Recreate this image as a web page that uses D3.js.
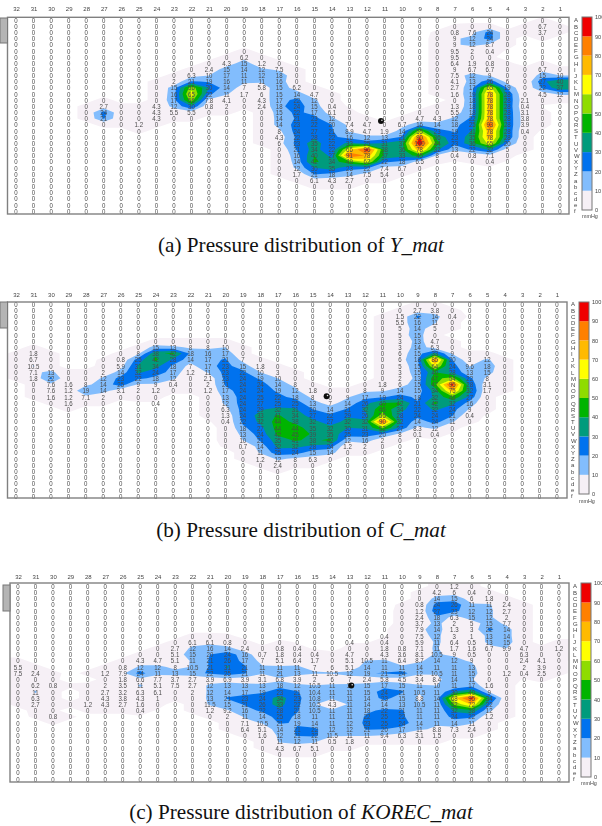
<!DOCTYPE html>
<html>
<head>
<meta charset="utf-8">
<script src="https://cdn.jsdelivr.net/npm/d3@7"></script>
<style>
  html, body { margin: 0; padding: 0; background: #fff; }
  svg { display: block; }
  text { font-family: "Liberation Sans", Arial, sans-serif; }
  .caption { font-family: "Liberation Serif", "Times New Roman", serif; font-size: 21.2px; fill: #111; }
</style>
</head>
<body>
<svg id="chart" width="602" height="826"></svg>
<script>
var colLabels = [32,31,30,29,28,27,26,25,24,23,22,21,20,19,18,17,16,15,14,13,12,11,10,9,8,7,6,5,4,3,2,1];
var rowLabels = ["A","B","C","D","E","F","G","H","I","J","K","L","M","N","O","P","Q","R","S","T","U","V","W","X","Y","Z","a","b","c","d","e","f"];
var legendTicks = [0,10,20,30,40,50,60,70,80,90,100];

// legend bands, low to high
var bandLimits = [0,10,20,30,40,50,60,70,80,90,100];
var bandColors = ["#f6f0f6","#82bdfd","#0072ee","#009b7c","#00b400","#8fdc00","#ffff00","#ffba00","#ff8000","#f00000"];

// each line: column label, first row that is not zero, then the readings going down
var yMat = [
  [27,14, 2.7,24,21],
  [25,17, 1.2],
  [24,14, 4.3,4.3,4.3],
  [23,10, 2,15,16,17,12,5.5],
  [22,9, 6.3,21,56,65,56,30,5.5],
  [21,8, 2.4,10,19,30,22,7.8,0.8],
  [20,7, 4.3,15,17,16,14,11,4.1,2],
  [19,6, 6.2,15,14,11,11,7,1.7],
  [18,7, 1.2,12,12,11,5.8,6,4.3,2.4],
  [17,8, 7.5,18,16,15,15,17,18,15,14,14,8,4.3,6],
  [16,11, 6.2,14,22,24,22,21,23,24,22,23,21,16,14,12,1.7],
  [15,12, 4.7,12,15,17,23,22,27,28,35,34,40,42,30,21,6.1],
  [14,14, 0.4,6.1,12,20,21,22,22,22,27,34,35,18,4.3],
  [13,17, 7.4,8.9,16,33,66,91,49,23,14,2.7],
  [12,17, 4.7,4.7,12,25,96,78,62,22,7.5],
  [11,18, 1.9,13,31,38,37,22,7.4,5.4],
  [10,17, 6.7,14,21,37,36,33,18,6.7],
  [9,16, 4.7,16,55,90,100,78,45,6.5],
  [8,16, 4.3,14,23,36,44,32,8],
  [7,2, 0.8,9,9,9.5,9.5,6.4,9,7.5,4.1,2.7,1.6,0,1.3,5.5,12,18,19,23,23,13,0.4],
  [6,2, 7.6,12,12,2,0,1.9,6.7,12,13,17,19,18,18,18,22,25,31,35,36,22,0.8],
  [5,2, 24,24,8.7,0.4,0,0.8,6.7,9,26,65,78,78,78,78,78,93,78,78,65,32,7.1,0.4],
  [4,10, 6,19,28,28,28,28,28,28,28,28,20,5],
  [3,13, 2.1,0.4,3.1,3.8,3.9,0.4],
  [2,1, 6.7,3.7,0,0,0,0,0,6.7,15,27,22,4.5],
  [1,9, 10,40,37,12]
];

var cMat = [
  [31,8, 1.8,6.7,10.5,7.1,1.8],
  [30,11, 13,22,7.6,7.6,1.6],
  [29,13, 1.6,1.2,1.2,1.6],
  [28,13, 8,19,7.1],
  [27,11, 2,12,14,14,2],
  [26,9, 0.8,5.9,14,23,25,3.1],
  [25,8, 8,25,31,32,22,9,2],
  [24,7, 15,38,42,34,24,18,9,1.2,0,0.4],
  [23,7, 13,42,28,18,17,12,0.4],
  [22,7, 8,18,14,7,1.2],
  [21,7, 8,16,17,17,11,2.1,2,1.2],
  [20,7, 10,17,21,23,23,23,21,17,13,12,6.3,1.3,0.4],
  [19,9, 7,15,22,24,24,24,24,24,24,24,22,18,13,10,0.7],
  [18,10, 1.8,10,19,24,24,25,27,29,33,32,27,24,21,14,11,1.2],
  [17,11, 3,10,14,19,22,25,32,41,44,44,42,35,32,25,12,2.4],
  [16,13, 8,12,18,25,31,34,38,44,45,41,32,24,8],
  [15,14, 1.8,8,13,20,27,32,35,39,38,28,15,6.3],
  [14,16, 7,14,22,27,32,35,42,24,14],
  [13,15, 9,14,21,29,32,30,25,12,1.2],
  [12,14, 8,17,26,32,26,32,31,23,16,2],
  [11,13, 1.8,9,19,40,46,55,90,52,20,2],
  [10,2, 1.5,5.5,5,5,3,3,6,6,5,3,2,6,14,24,42,34,28,32,27,8],
  [9,1, 2.7,22,16,14,15,13,14,15,18,15,15,13,15,15,18,21,22,24,14,8.3,0.1],
  [8,1, 3.8,14,11,5,0,4.7,6.3,33,85,64,40,47,47,34,32,42,32,24,24,12,0.4],
  [7,2, 0.4,0,0,0,0,0,9,20,24,28,54,95,75,48,32,24,21,11],
  [6,9, 3,9.6,13,22,28,32,27,16,9,0.4],
  [5,9, 12,18,15,8,3.1,1.7]
];

var korecMat = [
  [32,13, 5.5,7.5],
  [31,14, 2.4,0,6.2,11,6.3,2.7],
  [30,16, 0.8,0,0,0,0,0.8],
  [28,19, 1.2],
  [27,14, 1.2,0,2,2.7,4.3,4.3],
  [26,13, 0.8,7.9,1.8,3.5,3.2,3.8,2.7],
  [25,12, 4.3,12,24,6.6,11,6.3,4.3,1.6,0.4],
  [24,12, 4.7,12,11,7.7,5.1,6.1,1],
  [23,10, 2.7,5.1,5.1,8,13,3.7,7.5],
  [22,9, 6.1,12,15,11,10.5,15,2.7,2.7,2],
  [21,9, 6.1,16,20,21,21,22,3.9,12,12,13,11.5,1.2],
  [20,9, 0.8,14,24,26,31,25,6.9,13,14,21,15,9.2,2],
  [19,10, 2.4,16,17,21,21,3.9,13,17,23,21,16,11,7.1,6.4],
  [18,11, 0.7,7,11,11,3.1,13,19,24,26,22,14,10.5,5.1,1.6],
  [17,10, 0.8,1.8,5.1,11,21,6.8,18,23,34,33,28,25,21,14,12,11,4.3],
  [16,10, 0.4,0.4,6.4,11,13,3.9,12,21,23,22,21,18,19,21,21,12,6.7],
  [15,11, 0.4,1.7,7,11,2,10.5,10.4,10.8,10.5,10.5,11,14,22,22,11,5.1],
  [14,13, 6,10.5,6,11,11,11,4.3,11,11,11,12,11.5,0.5],
  [13,9, 0.4,0,4.7,5.1,5.1,12,7,11,11,11,11,11,11,12,12,11,1.8],
  [12,12, 10.5,14,19,2.4,15,15,14,14,18,22,23,21,11],
  [11,8, 0.4,0.4,1.8,4.3,11,11,21,5.8,17,24,23,14,22,25,25,20,9.4],
  [10,10, 0.8,3.6,6.4,11,24,4.5,15,21,15,13,21,22,24,17,6.3],
  [9,3, 0.8,1.2,2.4,3.7,7.9,7.5,5.9,7.1,8.1,8.7,14,12,3.4,11,10.5,8.8,10.5,11,11,14,11,3.1],
  [8,1, 4.2,14,24,27,18,13,14,12,11,11,10.5,14,11,10.5,8.4,10,11,14,11,11,11,11,8.8,1.5],
  [7,0, 1.2,6,15,26,23,6.3,2,1.3,3,6.4,1.7,9,12,11,11,14,11,30,68,52,32,24,14,7.3],
  [6,1, 0.4,6,11,12,15,5,3,1,0.5,1.6,0.5,9,13,15,11,17,40,95,72,38,22,11,2.4],
  [5,2, 1.8,11,12,12,15,22,13,13,6.7,0,0,0,0,0,1.6,9,34,22,12,1.2],
  [4,3, 2.4,2.7,2,7.7,14,14,15,9.9,0,0,0,1.2],
  [3,10, 4.7,6.3,2.4,2,0.4],
  [2,12, 4.1,3.9,2.5],
  [1,10, 1.2]
];

// sensor ball on each mat, as [column position, row position] on the grid
var yBall = [20.8, 16.4];
var cBall = [17.8, 14.9];
var korecBall = [19.1, 16];

// places for the three plots
var panels = [
  {data: yMat, ball: yBall, colY: 9, x0: 16, x1: 560, y0: 20, y1: 211, boxL: 7.5, boxR: 569, boxT: 17.3, boxB: 214,
   letterX: 576, barL: 582, barR: 592, barT: 17, barB: 210, thumbL: 0, thumbT: 18, thumbB: 43, unitY: 218},
  {data: cMat, ball: cBall, colY: 295, x0: 16, x1: 557, y0: 304, y1: 496, boxL: 7.5, boxR: 567, boxT: 302, boxB: 498,
   letterX: 573, barL: 579, barR: 589, barT: 302, barB: 494, thumbL: 0, thumbT: 302, thumbB: 328, unitY: 503},
  {data: korecMat, ball: korecBall, colY: 577, x0: 18, x1: 559, y0: 586, y1: 779, boxL: 10, boxR: 569, boxT: 583, boxB: 782,
   letterX: 575, barL: 581, barR: 591, barT: 583, barB: 777, thumbL: 3, thumbT: 585, thumbB: 611, unitY: 785}
];

var svg = d3.select("#chart");
var defs = svg.append("defs");
var soft = defs.append("filter").attr("id", "soft")
  .attr("x", "-2%").attr("y", "-2%").attr("width", "104%").attr("height", "104%");
soft.append("feGaussianBlur").attr("stdDeviation", 0.55);

var nCols = colLabels.length;
var nRows = rowLabels.length;
var pad = 1;  // ghost cells so colour runs up to the frame

function buildGrid(lines) {
  var grid = d3.range(nCols * nRows).map(() => 0);
  lines.forEach(line => {
    var c = colLabels.indexOf(line[0]);
    line.slice(2).forEach((v, i) => { grid[(line[1] + i) * nCols + c] = v; });
  });
  return grid;
}

// copies the grid with the edge cells repeated outside it
function padGrid(grid) {
  var w = nCols + 2 * pad, h = nRows + 2 * pad, out = new Array(w * h);
  for (var j = 0; j < h; j++) {
    for (var i = 0; i < w; i++) {
      var c = Math.max(0, Math.min(nCols - 1, i - pad));
      var r = Math.max(0, Math.min(nRows - 1, j - pad));
      out[j * w + i] = grid[r * nCols + c];
    }
  }
  return out;
}

// anything non zero gets a pale halo a little bigger than itself
function haloGrid(padded) {
  var w = nCols + 2 * pad, h = nRows + 2 * pad, out = new Array(w * h);
  var reach = [[0,0],[1,0],[-1,0],[0,1],[0,-1]];
  for (var j = 0; j < h; j++) {
    for (var i = 0; i < w; i++) {
      var m = 0;
      reach.forEach(d => {
        var a = i + d[0], b = j + d[1];
        if (a < 0 || b < 0 || a >= w || b >= h) return;
        m = Math.max(m, Math.min(1, padded[b * w + a]));
      });
      out[j * w + i] = m;
    }
  }
  return out;
}

function drawPanel(p, n) {
  var g = svg.append("g").attr("filter", "url(#soft)");
  var grid = buildGrid(p.data);
  var padded = padGrid(grid);

  var x = d3.scaleLinear().domain([0, nCols - 1]).range([p.x0, p.x1]);
  var y = d3.scaleLinear().domain([0, nRows - 1]).range([p.y0, p.y1]);
  var colScale = d3.scalePoint().domain(colLabels).range([p.x0, p.x1]);
  var rowScale = d3.scalePoint().domain(rowLabels).range([p.y0, p.y1]);

  var clipId = "box" + n;
  defs.append("clipPath").attr("id", clipId).append("rect")
    .attr("x", p.boxL).attr("y", p.boxT)
    .attr("width", p.boxR - p.boxL).attr("height", p.boxB - p.boxT);

  // d3.contours puts a cell's value in the middle of the cell
  var path = d3.geoPath(d3.geoTransform({
    point: function(u, v) { this.stream.point(x(u - 0.5 - pad), y(v - 0.5 - pad)); }
  }));
  var contours = d3.contours().size([nCols + 2 * pad, nRows + 2 * pad]);
  var field = g.append("g").attr("clip-path", `url(#${clipId})`);

  field.append("path")
    .attr("d", path(contours.thresholds([0.5])(haloGrid(padded))[0]))
    .attr("fill", bandColors[0]);

  field.selectAll("path.band")
    .data(bandLimits.slice(1, -1))
    .enter().append("path")
      .attr("class", "band")
      .attr("d", t => path(contours.thresholds([t])(padded)[0]))
      .attr("fill", (t, i) => bandColors[i + 1]);

  // readings, squeezed sideways like the mat software prints them
  var cells = [];
  grid.forEach((v, k) => cells.push({c: k % nCols, r: Math.floor(k / nCols), v: v}));
  g.append("g").selectAll("text")
    .data(cells)
    .enter().append("text")
      .attr("transform", d => `translate(${x(d.c)},${y(d.r) + 2.7}) scale(0.8,1)`)
      .attr("text-anchor", "middle")
      .attr("font-size", 7.6)
      .attr("fill", "#4a4a4a")
      .text(d => d.v);

  // frame
  g.append("rect")
    .attr("x", p.boxL).attr("y", p.boxT)
    .attr("width", p.boxR - p.boxL).attr("height", p.boxB - p.boxT)
    .attr("fill", "none").attr("stroke", "#808080").attr("stroke-width", 1.4);

  // scroll thumb
  g.append("rect")
    .attr("x", p.thumbL).attr("y", p.thumbT)
    .attr("width", p.boxL - p.thumbL).attr("height", p.thumbB - p.thumbT)
    .attr("fill", "#b4b4b4").attr("stroke", "#777").attr("stroke-width", 1);

  // sensor ball
  var ball = g.append("g");
  ball.append("circle")
    .attr("cx", x(p.ball[0])).attr("cy", y(p.ball[1]))
    .attr("r", 3).attr("fill", "#111");
  ball.append("circle")
    .attr("cx", x(p.ball[0]) + 0.9).attr("cy", y(p.ball[1]) - 0.8)
    .attr("r", 0.8).attr("fill", "#ddd");

  // column numbers
  var colAxis = d3.axisTop(colScale).tickSize(0).tickPadding(0);
  g.append("g").attr("transform", `translate(0,${p.colY + 2})`).call(colAxis)
    .call(a => a.select(".domain").remove())
    .call(a => a.selectAll("text").attr("font-size", 6).attr("fill", "#444").attr("font-family", "Liberation Sans"));

  // row letters
  var rowAxis = d3.axisRight(rowScale).tickSize(0).tickPadding(0);
  g.append("g").attr("transform", `translate(${p.letterX - 2},0)`).call(rowAxis)
    .call(a => a.select(".domain").remove())
    .call(a => a.selectAll("text").attr("font-size", 6).attr("fill", "#444").attr("font-family", "Liberation Sans"));

  // legend bar
  var legend = d3.scaleLinear().domain([0, 100]).range([p.barB, p.barT]);
  g.append("g").selectAll("rect")
    .data(bandColors)
    .enter().append("rect")
      .attr("x", p.barL)
      .attr("y", (d, i) => legend(bandLimits[i + 1]))
      .attr("width", p.barR - p.barL)
      .attr("height", (d, i) => legend(bandLimits[i]) - legend(bandLimits[i + 1]))
      .attr("fill", d => d);
  g.append("rect")
    .attr("x", p.barL).attr("y", p.barT)
    .attr("width", p.barR - p.barL).attr("height", p.barB - p.barT)
    .attr("fill", "none").attr("stroke", "#777").attr("stroke-width", 1);

  var legendAxis = d3.axisRight(legend).tickValues(legendTicks).tickSize(0).tickPadding(0);
  g.append("g").attr("transform", `translate(${p.barR + 3},0)`).call(legendAxis)
    .call(a => a.select(".domain").remove())
    .call(a => a.selectAll("text").attr("font-size", 5.6).attr("fill", "#444").attr("font-family", "Liberation Sans"));

  g.append("text")
    .attr("x", p.barL).attr("y", p.unitY)
    .attr("font-size", 5.4).attr("fill", "#444")
    .text("mmHg");
}

panels.forEach(drawPanel);

// captions
function caption(yPos, label, name) {
  var t = svg.append("text").attr("class", "caption")
    .attr("x", 301).attr("y", yPos).attr("text-anchor", "middle");
  t.append("tspan").text(label + " Pressure distribution of ");
  t.append("tspan").attr("font-style", "italic").text(name);
}
caption(251.5, "(a)", "Y_mat");
caption(537, "(b)", "C_mat");
caption(819, "(c)", "KOREC_mat");
</script>
</body>
</html>
